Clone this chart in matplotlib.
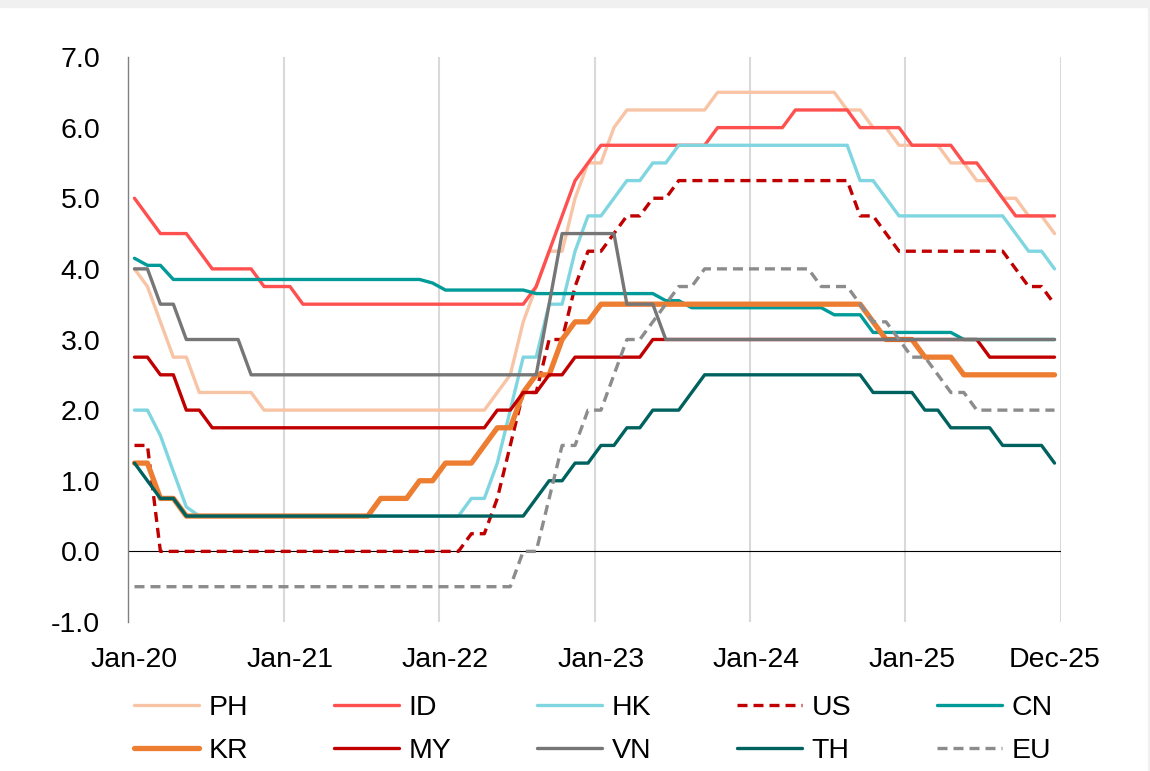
import numpy as np
import matplotlib
matplotlib.use("Agg")
import matplotlib.pyplot as plt
from matplotlib.patches import Rectangle

plt.rcParams['font.family'] = ['Liberation Sans', 'DejaVu Sans']

# Policy rates, monthly Jan-20 .. Dec-25 (one row per year)
PH = [4.0, 3.75, 3.25, 2.75, 2.75, 2.25, 2.25, 2.25, 2.25, 2.25, 2.0, 2.0,
      2.0, 2.0, 2.0, 2.0, 2.0, 2.0, 2.0, 2.0, 2.0, 2.0, 2.0, 2.0,
      2.0, 2.0, 2.0, 2.0, 2.25, 2.5, 3.25, 3.75, 4.25, 4.25, 5.0, 5.5,
      5.5, 6.0, 6.25, 6.25, 6.25, 6.25, 6.25, 6.25, 6.25, 6.5, 6.5, 6.5,
      6.5, 6.5, 6.5, 6.5, 6.5, 6.5, 6.5, 6.25, 6.25, 6.0, 6.0, 5.75,
      5.75, 5.75, 5.75, 5.5, 5.5, 5.25, 5.25, 5.0, 5.0, 4.75, 4.75, 4.5]
ID = [5.0, 4.75, 4.5, 4.5, 4.5, 4.25, 4.0, 4.0, 4.0, 4.0, 3.75, 3.75,
      3.75, 3.5, 3.5, 3.5, 3.5, 3.5, 3.5, 3.5, 3.5, 3.5, 3.5, 3.5,
      3.5, 3.5, 3.5, 3.5, 3.5, 3.5, 3.5, 3.75, 4.25, 4.75, 5.25, 5.5,
      5.75, 5.75, 5.75, 5.75, 5.75, 5.75, 5.75, 5.75, 5.75, 6.0, 6.0, 6.0,
      6.0, 6.0, 6.0, 6.25, 6.25, 6.25, 6.25, 6.25, 6.0, 6.0, 6.0, 6.0,
      5.75, 5.75, 5.75, 5.75, 5.5, 5.5, 5.25, 5.0, 4.75, 4.75, 4.75, 4.75]
HK = [2.0, 2.0, 1.64, 1.13, 0.63, 0.5, 0.5, 0.5, 0.5, 0.5, 0.5, 0.5,
      0.5, 0.5, 0.5, 0.5, 0.5, 0.5, 0.5, 0.5, 0.5, 0.5, 0.5, 0.5,
      0.5, 0.5, 0.75, 0.75, 1.25, 2.0, 2.75, 2.75, 3.5, 3.5, 4.25, 4.75,
      4.75, 5.0, 5.25, 5.25, 5.5, 5.5, 5.75, 5.75, 5.75, 5.75, 5.75, 5.75,
      5.75, 5.75, 5.75, 5.75, 5.75, 5.75, 5.75, 5.75, 5.25, 5.25, 5.0, 4.75,
      4.75, 4.75, 4.75, 4.75, 4.75, 4.75, 4.75, 4.75, 4.5, 4.25, 4.25, 4.0]
US = [1.5, 1.5, 0.0, 0.0, 0.0, 0.0, 0.0, 0.0, 0.0, 0.0, 0.0, 0.0,
      0.0, 0.0, 0.0, 0.0, 0.0, 0.0, 0.0, 0.0, 0.0, 0.0, 0.0, 0.0,
      0.0, 0.0, 0.25, 0.25, 0.75, 1.5, 2.25, 2.25, 3.0, 3.0, 3.75, 4.25,
      4.25, 4.5, 4.75, 4.75, 5.0, 5.0, 5.25, 5.25, 5.25, 5.25, 5.25, 5.25,
      5.25, 5.25, 5.25, 5.25, 5.25, 5.25, 5.25, 5.25, 4.75, 4.75, 4.5, 4.25,
      4.25, 4.25, 4.25, 4.25, 4.25, 4.25, 4.25, 4.25, 4.0, 3.75, 3.75, 3.5]
CN = [4.15, 4.05, 4.05, 3.85, 3.85, 3.85, 3.85, 3.85, 3.85, 3.85, 3.85, 3.85,
      3.85, 3.85, 3.85, 3.85, 3.85, 3.85, 3.85, 3.85, 3.85, 3.85, 3.85, 3.8,
      3.7, 3.7, 3.7, 3.7, 3.7, 3.7, 3.7, 3.65, 3.65, 3.65, 3.65, 3.65,
      3.65, 3.65, 3.65, 3.65, 3.65, 3.55, 3.55, 3.45, 3.45, 3.45, 3.45, 3.45,
      3.45, 3.45, 3.45, 3.45, 3.45, 3.45, 3.35, 3.35, 3.35, 3.1, 3.1, 3.1,
      3.1, 3.1, 3.1, 3.1, 3.0, 3.0, 3.0, 3.0, 3.0, 3.0, 3.0, 3.0]
KR = [1.25, 1.25, 0.75, 0.75, 0.5, 0.5, 0.5, 0.5, 0.5, 0.5, 0.5, 0.5,
      0.5, 0.5, 0.5, 0.5, 0.5, 0.5, 0.5, 0.75, 0.75, 0.75, 1.0, 1.0,
      1.25, 1.25, 1.25, 1.5, 1.75, 1.75, 2.25, 2.5, 2.5, 3.0, 3.25, 3.25,
      3.5, 3.5, 3.5, 3.5, 3.5, 3.5, 3.5, 3.5, 3.5, 3.5, 3.5, 3.5,
      3.5, 3.5, 3.5, 3.5, 3.5, 3.5, 3.5, 3.5, 3.5, 3.25, 3.0, 3.0,
      3.0, 2.75, 2.75, 2.75, 2.5, 2.5, 2.5, 2.5, 2.5, 2.5, 2.5, 2.5]
MY = [2.75, 2.75, 2.5, 2.5, 2.0, 2.0, 1.75, 1.75, 1.75, 1.75, 1.75, 1.75,
      1.75, 1.75, 1.75, 1.75, 1.75, 1.75, 1.75, 1.75, 1.75, 1.75, 1.75, 1.75,
      1.75, 1.75, 1.75, 1.75, 2.0, 2.0, 2.25, 2.25, 2.5, 2.5, 2.75, 2.75,
      2.75, 2.75, 2.75, 2.75, 3.0, 3.0, 3.0, 3.0, 3.0, 3.0, 3.0, 3.0,
      3.0, 3.0, 3.0, 3.0, 3.0, 3.0, 3.0, 3.0, 3.0, 3.0, 3.0, 3.0,
      3.0, 3.0, 3.0, 3.0, 3.0, 3.0, 2.75, 2.75, 2.75, 2.75, 2.75, 2.75]
VN = [4.0, 4.0, 3.5, 3.5, 3.0, 3.0, 3.0, 3.0, 3.0, 2.5, 2.5, 2.5,
      2.5, 2.5, 2.5, 2.5, 2.5, 2.5, 2.5, 2.5, 2.5, 2.5, 2.5, 2.5,
      2.5, 2.5, 2.5, 2.5, 2.5, 2.5, 2.5, 2.5, 3.5, 4.5, 4.5, 4.5,
      4.5, 4.5, 3.5, 3.5, 3.5, 3.0, 3.0, 3.0, 3.0, 3.0, 3.0, 3.0,
      3.0, 3.0, 3.0, 3.0, 3.0, 3.0, 3.0, 3.0, 3.0, 3.0, 3.0, 3.0,
      3.0, 3.0, 3.0, 3.0, 3.0, 3.0, 3.0, 3.0, 3.0, 3.0, 3.0, 3.0]
TH = [1.25, 1.0, 0.75, 0.75, 0.5, 0.5, 0.5, 0.5, 0.5, 0.5, 0.5, 0.5,
      0.5, 0.5, 0.5, 0.5, 0.5, 0.5, 0.5, 0.5, 0.5, 0.5, 0.5, 0.5,
      0.5, 0.5, 0.5, 0.5, 0.5, 0.5, 0.5, 0.75, 1.0, 1.0, 1.25, 1.25,
      1.5, 1.5, 1.75, 1.75, 2.0, 2.0, 2.0, 2.25, 2.5, 2.5, 2.5, 2.5,
      2.5, 2.5, 2.5, 2.5, 2.5, 2.5, 2.5, 2.5, 2.5, 2.25, 2.25, 2.25,
      2.25, 2.0, 2.0, 1.75, 1.75, 1.75, 1.75, 1.5, 1.5, 1.5, 1.5, 1.25]
EU = [-0.5, -0.5, -0.5, -0.5, -0.5, -0.5, -0.5, -0.5, -0.5, -0.5, -0.5, -0.5,
      -0.5, -0.5, -0.5, -0.5, -0.5, -0.5, -0.5, -0.5, -0.5, -0.5, -0.5, -0.5,
      -0.5, -0.5, -0.5, -0.5, -0.5, -0.5, 0.0, 0.0, 0.75, 1.5, 1.5, 2.0,
      2.0, 2.5, 3.0, 3.0, 3.25, 3.5, 3.75, 3.75, 4.0, 4.0, 4.0, 4.0,
      4.0, 4.0, 4.0, 4.0, 4.0, 3.75, 3.75, 3.75, 3.5, 3.25, 3.25, 3.0,
      2.75, 2.75, 2.5, 2.25, 2.25, 2.0, 2.0, 2.0, 2.0, 2.0, 2.0, 2.0]

tick_pos = [0, 12, 24, 36, 48, 60, 71]
tick_labels = ['Jan-20', 'Jan-21', 'Jan-22', 'Jan-23', 'Jan-24', 'Jan-25', 'Dec-25']

# nama, data, warna, tebal garis, putus-putus
seri = [
    ('PH', PH, '#F8C4A6', 2.4, False),
    ('ID', ID, '#FF5050', 2.4, False),
    ('HK', HK, '#7FD6E0', 2.4, False),
    ('US', US, '#C00000', 2.4, True),
    ('CN', CN, '#009B98', 2.4, False),
    ('KR', KR, '#ED7D31', 3.8, False),
    ('MY', MY, '#C00000', 2.4, False),
    ('VN', VN, '#767676', 2.4, False),
    ('TH', TH, '#00625F', 2.4, False),
    ('EU', EU, '#8C8C8C', 2.4, True),
]

fig = plt.figure(figsize=(11.5, 7.71), dpi=100)
fig.patches.append(Rectangle((0, 1 - 7 / 771), 1, 7 / 771, transform=fig.transFigure,
                             color='#F0F0F0', zorder=0))
fig.patches.append(Rectangle((1148 / 1150, 0), 2 / 1150, 1, transform=fig.transFigure,
                             color='#F0F0F0', zorder=0))
ax = fig.add_axes([128 / 1150, 1 - 622 / 771, (1061 - 128) / 1150, (622 - 57) / 771])

x = np.arange(len(PH))
garis = {}
for nama, data, warna, lw, putus in seri:
    if putus:
        ln, = ax.plot(x, data, color=warna, lw=lw, dashes=(3.0, 1.8),
                      dash_capstyle='butt', label=nama)
    else:
        ln, = ax.plot(x, data, color=warna, lw=lw, solid_capstyle='round',
                      solid_joinstyle='round', label=nama)
    garis[nama] = ln

ax.axhline(0, color='black', lw=0.8, zorder=1)

ax.set_xlim(-0.5, len(PH) - 0.5)
ax.set_ylim(-1, 7)
ax.set_yticks(np.arange(-1, 8, 1))
ax.yaxis.set_major_formatter(matplotlib.ticker.FormatStrFormatter('%.1f'))
ax.set_xticks(tick_pos)
ax.set_xticklabels(tick_labels)
ax.set_xticks(np.arange(11.5, len(PH), 12), minor=True)
ax.grid(which='minor', axis='x', color='#D9D9D9', lw=1.5)
ax.set_axisbelow(True)
ax.tick_params(axis='both', which='both', length=0, labelsize=20.5)
ax.tick_params(axis='y', pad=20)
ax.tick_params(axis='x', pad=18)

for s in ['top', 'right', 'bottom']:
    ax.spines[s].set_visible(False)
ax.spines['left'].set_color('#808080')
ax.spines['left'].set_linewidth(1.0)

# urutan legend supaya baris pertama PH ID HK US CN
urutan = ['PH', 'KR', 'ID', 'MY', 'HK', 'VN', 'US', 'TH', 'CN', 'EU']
fig.legend([garis[n] for n in urutan], urutan, ncol=5, loc='center',
           bbox_to_anchor=(0.516, 0.054), frameon=False, fontsize=20.5,
           handlelength=2.3, handletextpad=0.33, columnspacing=3.0,
           labelspacing=0.62)

fig.savefig('out.png', dpi=100)
